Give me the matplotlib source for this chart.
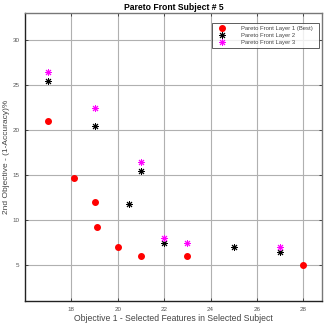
import matplotlib
matplotlib.use("Agg")
import matplotlib.pyplot as plt

plt.rcParams['font.family'] = ['Liberation Sans', 'DejaVu Sans']

layer1_x = [17, 18.1, 19, 19.1, 20, 21, 23, 28]
layer1_y = [21, 14.7, 12, 9.2, 7, 6, 6, 5]
layer2_x = [17, 19, 20.5, 21, 22, 25, 27]
layer2_y = [25.5, 20.5, 11.8, 15.5, 7.5, 7, 6.5]
layer3_x = [17, 19, 21, 22, 23, 27]
layer3_y = [26.5, 22.5, 16.5, 8, 7.5, 7]
xticks = [18, 20, 22, 24, 26, 28]
yticks = [5, 10, 15, 20, 25, 30]

fig = plt.figure(figsize=(3.25, 3.29), dpi=100)
ax = fig.add_axes([25/325, 28/329, 297/325, 288/329])

ast = (8, 2, 0)
ax.plot(layer1_x, layer1_y, 'o', color='red', markersize=4, label='Pareto Front Layer 1 (Best)', zorder=3)
ax.plot(layer2_x, layer2_y, marker=ast, ls='none', color='black', markersize=5, mew=0.7,
        label='Pareto Front Layer 2', zorder=3)
ax.plot(layer3_x, layer3_y, marker=ast, ls='none', color='magenta', markersize=5, mew=0.7,
        label='Pareto Front Layer 3', zorder=3)

ax.set_xlim(16, 28.8)
ax.set_ylim(1, 33)
ax.set_xticks(xticks)
ax.set_yticks(yticks)
ax.grid(True, color='#b0b0b0', linewidth=0.8)
ax.set_axisbelow(True)
ax.tick_params(direction='in', length=2.5, width=0.6, labelsize=4.5, labelcolor='#555555', color='#333333',
               top=True, right=True, pad=4)
for s in ['left', 'bottom']:
    ax.spines[s].set_color('#222222')
    ax.spines[s].set_linewidth(1.0)
for s in ['top', 'right']:
    ax.spines[s].set_color('#777777')
    ax.spines[s].set_linewidth(1.0)

ax.set_title('Pareto Front Subject # 5', fontsize=6.2, fontweight='bold', pad=2)
ax.set_xlabel('Objective 1 - Selected Features in Selected Subject', fontsize=6.2, color='#444444', labelpad=2)
ax.set_ylabel('2nd Objective - (1-Accuracy)%', fontsize=6, color='#444444', labelpad=2)

leg = ax.legend(loc='upper left', bbox_to_anchor=(0.63, 0.875, 0.36, 0.09), mode='expand', borderaxespad=0,
                fontsize=4.2, frameon=True, fancybox=False, edgecolor='#333333',
                handletextpad=2.0, labelspacing=0.35, borderpad=0.45, handlelength=2.5)
leg.get_frame().set_linewidth(0.7)
for t in leg.get_texts():
    t.set_color('#444444')

fig.savefig('out.png', dpi=100)
